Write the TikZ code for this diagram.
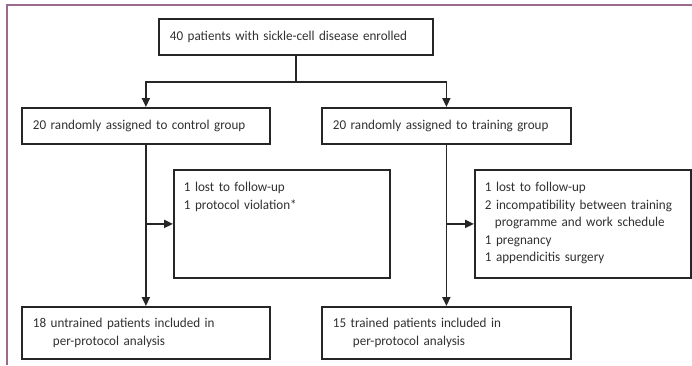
\documentclass[tikz,border=0pt]{standalone}
\usepackage{fontspec}
\setmainfont{Carlito}[FakeStretch=0.97]
\usetikzlibrary{arrows.meta, positioning}
\definecolor{framepink}{HTML}{9C6A8C}
\definecolor{inkgray}{HTML}{303030}

\begin{document}
\hyphenpenalty=10000
\begin{tikzpicture}[
    x=1pt, y=-1pt,
    box/.style={
        rectangle, draw=black!85, line width=1.8pt,
        anchor=north west, inner xsep=11pt,
        minimum height=36pt,
        align=left, text=inkgray,
        font=\fontsize{13.5}{17.5}\selectfont
    },
    exbox/.style={box, minimum height=108pt, text width=196pt, inner xsep=10pt, text depth=74pt},
    arrow/.style={-{Triangle[length=9pt,width=8pt]}, line width=1.8pt, black!85}
]
\useasboundingbox (0,0) rectangle (692,365);

% page frame
\draw[framepink, line width=1.2pt] (7,365) -- (7,5) -- (692,5);

\node[box, text width=252pt] (enrol) at (158,18) {40 patients with sickle-cell disease enrolled};
\node[box, text width=226pt] (ctrl) at (21,107) {20 randomly assigned to control group};
\node[box, text width=227pt] (train) at (321,107) {20 randomly assigned to training group};

\node[exbox] (lossctrl) at (173,169) {1 lost to follow-up\\1 protocol violation*};
\node[exbox] (losstrain) at (474,169) {1 lost to follow-up\\2 incompatibility between training\\\hspace*{10pt}programme and work schedule\\1 pregnancy\\1 appendicitis surgery};

\node[box, text width=226pt, minimum height=52pt] (finctrl) at (21,306) {18 untrained patients included in\\\hspace*{20pt}per-protocol analysis};
\node[box, text width=227pt, minimum height=52pt] (fintrain) at (321,306) {15 trained patients included in\\\hspace*{20pt}per-protocol analysis};

% split after enrolment
\draw[line width=1.8pt, black!85] (enrol.south) -- ++(0,26) coordinate (split);
\draw[arrow] (split) -| (ctrl);
\draw[arrow] (split) -| (train);

\draw[arrow] (ctrl) -- (finctrl);
\draw[arrow] (train) -- (fintrain);

\coordinate (ctrlbranch) at (ctrl.south |- lossctrl.west);
\coordinate (trainbranch) at (train.south |- losstrain.west);
\draw[arrow] (ctrlbranch) -- (lossctrl);
\draw[arrow] (trainbranch) -- (losstrain);

\end{tikzpicture}
\end{document}
